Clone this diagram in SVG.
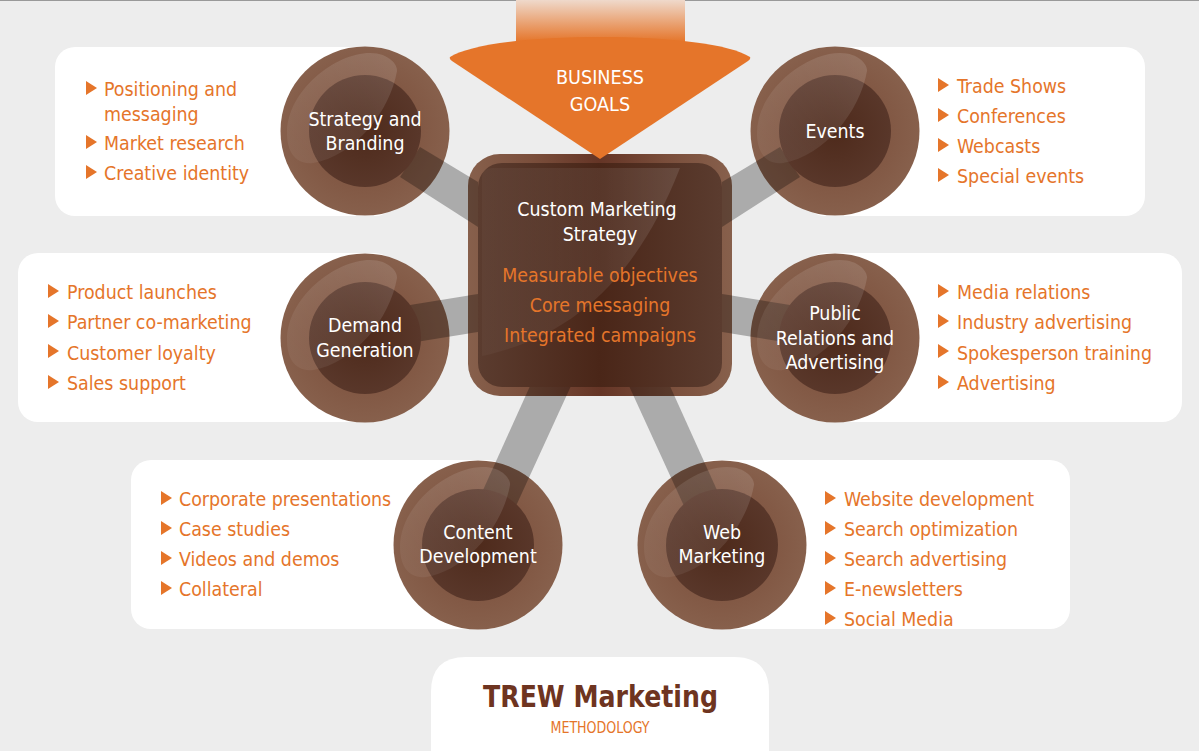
<svg xmlns="http://www.w3.org/2000/svg" xmlns:xlink="http://www.w3.org/1999/xlink" width="1199" height="751" viewBox="0 0 1199 751">
<style>
text{font-family:"DejaVu Sans Condensed","DejaVu Sans",sans-serif;font-size:19.4px}
.w{fill:#fff;text-anchor:middle}
.o{fill:#e5752a}
.m{fill:#e5752a;text-anchor:middle}
.panel{fill:#fff}
.band{fill:#ababab}
.shade{fill:#000;fill-opacity:.28}
.ring{fill:url(#ringG)}
.core{fill:url(#coreG)}
.gloss{fill:url(#glG)}
.tri{fill:#e5752a}
</style>
<defs>
<radialGradient id="ringG" cx=".5" cy=".5" r=".5"><stop offset=".6" stop-color="#815743"/><stop offset="1" stop-color="#87604c"/></radialGradient>
<radialGradient id="coreG" cx=".5" cy=".5" r=".5"><stop offset="0" stop-color="#4e2a1b"/><stop offset="1" stop-color="#59372a"/></radialGradient>
<linearGradient id="glG" x1="0" y1="1" x2="1" y2="0"><stop offset="0" stop-color="#fff" stop-opacity=".05"/><stop offset="1" stop-color="#fff" stop-opacity=".13"/></linearGradient>
<linearGradient id="boxRing"><stop offset="0" stop-color="#87604c"/><stop offset=".25" stop-color="#7a4e3b"/><stop offset=".5" stop-color="#653526"/><stop offset=".75" stop-color="#7a4e3b"/><stop offset="1" stop-color="#87604c"/></linearGradient>
<linearGradient id="boxCore"><stop offset="0" stop-color="#5b3c2f"/><stop offset=".5" stop-color="#4a2618"/><stop offset="1" stop-color="#5b3c2f"/></linearGradient>
<linearGradient id="beam" x1="0" y1="0" x2="0" y2="1"><stop offset="0" stop-color="#efd9cb"/><stop offset="1" stop-color="#e5752a"/></linearGradient>
<linearGradient id="boxGl"><stop offset="0" stop-color="#fff" stop-opacity=".03"/><stop offset="1" stop-color="#fff" stop-opacity=".11"/></linearGradient>
<polygon id="b1" points="420,147 478,182 478,227 400,177"/>
<polygon id="b2" points="780,147 722,182 722,227 800,177"/>
<polygon id="b3" points="410,305 478,294 478,332 410,343"/>
<polygon id="b4" points="790,305 722,294 722,332 790,343"/>
<polygon id="b5" points="535,375 576,375 505,530 465,530"/>
<polygon id="b6" points="665,375 624,375 695,530 735,530"/>
<polygon id="tri" points="0,-7 0,7 11,0"/>
<path id="gl" d="M-78,2C-78,-40 -30,-78 5,-78C25,-78 33,-65 32,-60C25,-20 -10,25 -52,32C-70,34 -78,20 -78,2Z"/>
<clipPath id="cc1"><circle cx="365" cy="131" r="84.5"/></clipPath>
<clipPath id="cc2"><circle cx="835" cy="131" r="84.5"/></clipPath>
<clipPath id="cc3"><circle cx="365" cy="338" r="84.5"/></clipPath>
<clipPath id="cc4"><circle cx="835" cy="338" r="84.5"/></clipPath>
<clipPath id="cc5"><circle cx="478" cy="545" r="84.5"/></clipPath>
<clipPath id="cc6"><circle cx="722" cy="545" r="84.5"/></clipPath>
<clipPath id="cb"><rect x="468" y="154" width="264" height="242" rx="32"/></clipPath>
</defs>
<rect width="1199" height="751" fill="#ededed"/>
<rect width="1199" height="1" fill="#999"/>
<g id="panels">
<rect class="panel" x="55" y="47" width="340" height="169" rx="20"/>
<rect class="panel" x="805" y="47" width="340" height="169" rx="20"/>
<rect class="panel" x="18" y="253" width="377" height="169" rx="20"/>
<rect class="panel" x="805" y="253" width="377" height="169" rx="20"/>
<rect class="panel" x="131" y="460" width="377" height="169" rx="20"/>
<rect class="panel" x="692" y="460" width="378" height="169" rx="20"/>
</g>
<g id="connectors" class="band">
<use href="#b1"/><use href="#b2"/><use href="#b3"/><use href="#b4"/><use href="#b5"/><use href="#b6"/>
</g>
<g id="goals">
<path d="M516,0H685V42H516Z" fill="url(#beam)"/>
</g>
<g id="center">
<rect x="468" y="154" width="264" height="242" rx="32" fill="url(#boxRing)"/>
<g class="shade" clip-path="url(#cb)"><use href="#b1"/><use href="#b2"/><use href="#b3"/><use href="#b4"/><use href="#b5"/><use href="#b6"/></g>
<rect x="478" y="163" width="244" height="224" rx="24" fill="url(#boxCore)"/>
<path d="M492,168H680C640,270 580,335 482,356V178Q482,168 492,168Z" fill="url(#boxGl)"/>
<text class="w" x="597" y="216">Custom Marketing</text>
<text class="w" x="600" y="241">Strategy</text>
<text class="m" x="600" y="282">Measurable objectives</text>
<text class="m" x="600" y="312">Core messaging</text>
<text class="m" x="600" y="342">Integrated campaigns</text>
</g>
<g id="arrow">
<path d="M450,57C470,44 530,37 600,37C670,37 730,44 750,57Q751,59 748,61L600,159L452,61Q449,59 450,57Z" fill="#e5752a"/>
<text class="w" x="600" y="84" style="font-size:19.6px">BUSINESS</text>
<text class="w" x="600" y="111" style="font-size:19.6px">GOALS</text>
</g>
<g id="strategy">
<circle class="ring" cx="365" cy="131" r="84.5"/>
<g class="shade" clip-path="url(#cc1)"><use href="#b1"/></g>
<circle class="core" cx="365" cy="131" r="56"/>
<use class="gloss" href="#gl" x="365" y="131"/>
<text class="w" x="365" y="126">Strategy and</text>
<text class="w" x="365" y="150">Branding</text>
<use class="tri" href="#tri" x="86" y="88"/>
<use class="tri" href="#tri" x="86" y="142"/>
<use class="tri" href="#tri" x="86" y="172"/>
<text class="o" x="104" y="96">Positioning and</text>
<text class="o" x="104" y="121">messaging</text>
<text class="o" x="104" y="150">Market research</text>
<text class="o" x="104" y="180">Creative identity</text>
</g>
<g id="events">
<circle class="ring" cx="835" cy="131" r="84.5"/>
<g class="shade" clip-path="url(#cc2)"><use href="#b2"/></g>
<circle class="core" cx="835" cy="131" r="56"/>
<use class="gloss" href="#gl" x="835" y="131"/>
<text class="w" x="835" y="138">Events</text>
<use class="tri" href="#tri" x="938" y="85"/>
<use class="tri" href="#tri" x="938" y="115"/>
<use class="tri" href="#tri" x="938" y="145"/>
<use class="tri" href="#tri" x="938" y="175"/>
<text class="o" x="957" y="93">Trade Shows</text>
<text class="o" x="957" y="123">Conferences</text>
<text class="o" x="957" y="153">Webcasts</text>
<text class="o" x="957" y="183">Special events</text>
</g>
<g id="demand">
<circle class="ring" cx="365" cy="338" r="84.5"/>
<g class="shade" clip-path="url(#cc3)"><use href="#b3"/></g>
<circle class="core" cx="365" cy="338" r="56"/>
<use class="gloss" href="#gl" x="365" y="338"/>
<text class="w" x="365" y="332">Demand</text>
<text class="w" x="365" y="357">Generation</text>
<use class="tri" href="#tri" x="48" y="291"/>
<use class="tri" href="#tri" x="48" y="321"/>
<use class="tri" href="#tri" x="48" y="351"/>
<use class="tri" href="#tri" x="48" y="382"/>
<text class="o" x="67" y="299">Product launches</text>
<text class="o" x="67" y="329">Partner co-marketing</text>
<text class="o" x="67" y="360">Customer loyalty</text>
<text class="o" x="67" y="390">Sales support</text>
</g>
<g id="pr">
<circle class="ring" cx="835" cy="338" r="84.5"/>
<g class="shade" clip-path="url(#cc4)"><use href="#b4"/></g>
<circle class="core" cx="835" cy="338" r="56"/>
<use class="gloss" href="#gl" x="835" y="338"/>
<text class="w" x="835" y="320">Public</text>
<text class="w" x="835" y="345">Relations and</text>
<text class="w" x="835" y="369">Advertising</text>
<use class="tri" href="#tri" x="938" y="291"/>
<use class="tri" href="#tri" x="938" y="321"/>
<use class="tri" href="#tri" x="938" y="351"/>
<use class="tri" href="#tri" x="938" y="382"/>
<text class="o" x="957" y="299">Media relations</text>
<text class="o" x="957" y="329">Industry advertising</text>
<text class="o" x="957" y="360">Spokesperson training</text>
<text class="o" x="957" y="390">Advertising</text>
</g>
<g id="content">
<circle class="ring" cx="478" cy="545" r="84.5"/>
<g class="shade" clip-path="url(#cc5)"><use href="#b5"/></g>
<circle class="core" cx="478" cy="545" r="56"/>
<use class="gloss" href="#gl" x="478" y="545"/>
<text class="w" x="478" y="539">Content</text>
<text class="w" x="478" y="563">Development</text>
<use class="tri" href="#tri" x="161" y="498"/>
<use class="tri" href="#tri" x="161" y="528"/>
<use class="tri" href="#tri" x="161" y="558"/>
<use class="tri" href="#tri" x="161" y="588"/>
<text class="o" x="179" y="506">Corporate presentations</text>
<text class="o" x="179" y="536">Case studies</text>
<text class="o" x="179" y="566">Videos and demos</text>
<text class="o" x="179" y="596">Collateral</text>
</g>
<g id="web">
<circle class="ring" cx="722" cy="545" r="84.5"/>
<g class="shade" clip-path="url(#cc6)"><use href="#b6"/></g>
<circle class="core" cx="722" cy="545" r="56"/>
<use class="gloss" href="#gl" x="722" y="545"/>
<text class="w" x="722" y="539">Web</text>
<text class="w" x="722" y="563">Marketing</text>
<use class="tri" href="#tri" x="825" y="498"/>
<use class="tri" href="#tri" x="825" y="528"/>
<use class="tri" href="#tri" x="825" y="558"/>
<use class="tri" href="#tri" x="825" y="588"/>
<use class="tri" href="#tri" x="825" y="618"/>
<text class="o" x="844" y="506">Website development</text>
<text class="o" x="844" y="536">Search optimization</text>
<text class="o" x="844" y="566">Search advertising</text>
<text class="o" x="844" y="596">E-newsletters</text>
<text class="o" x="844" y="626">Social Media</text>
</g>
<g id="logo">
<path d="M431,751V692Q431,657 466,657H734Q769,657 769,692V751Z" fill="#fff"/>
<text x="483" y="707" textLength="235" lengthAdjust="spacingAndGlyphs" style="font-family:'DejaVu Sans',sans-serif;font-weight:bold;font-size:30px;fill:#6e3420">TREW Marketing</text>
<text class="m" x="600" y="733" textLength="99" lengthAdjust="spacingAndGlyphs" style="font-size:16px">METHODOLOGY</text>
</g>
</svg>
